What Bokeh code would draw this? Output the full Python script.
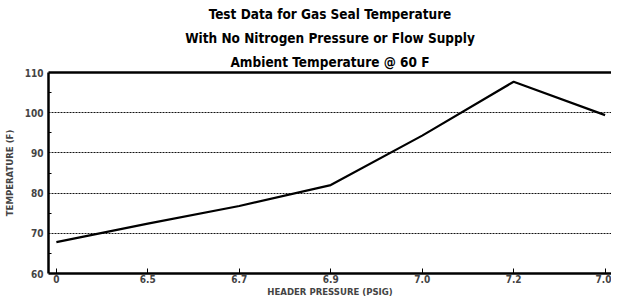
from bokeh.plotting import figure
from bokeh.models import Range1d, Title, FixedTicker, LinearAxis
from bokeh.embed import file_html
from bokeh.resources import INLINE

categories = ["0", "6.5", "6.7", "6.9", "7.0", "7.2", "7.0"]
temperature = [67.8, 72.4, 76.8, 82.0, 94.3, 107.7, 99.4]
y_ticks = [60, 70, 80, 90, 100, 110]
y_minor = [65, 75, 85, 95, 105]
grid_ticks = [70, 80, 90, 100]
title_lines = ["Test Data for Gas Seal Temperature",
               "With No Nitrogen Pressure or Flow Supply",
               "Ambient Temperature @ 60 F"]

FONT = "'DejaVu Sans Condensed', 'Liberation Sans', sans-serif"
idx = list(range(len(categories)))

p = figure(width=611, height=299, output_backend="svg", toolbar_location=None,
           x_range=Range1d(-0.086, 6.07), y_range=Range1d(60, 110),
           x_axis_location=None, y_axis_location=None,
           min_border_right=0, min_border_left=10, min_border_bottom=0, min_border_top=0)
p.title.visible = False
p.outline_line_color = None
p.background_fill_color = "white"
p.border_fill_color = "white"

p.line(idx, temperature, line_color="black", line_width=2.2)

xa = LinearAxis()
xa.ticker = FixedTicker(ticks=idx)
xa.major_label_overrides = {i: c for i, c in zip(idx, categories)}
xa.axis_label = "HEADER PRESSURE (PSIG)"
xa.axis_label_text_font = FONT
xa.axis_label_text_font_style = "bold"
xa.axis_label_text_font_size = "9.5px"
xa.axis_label_standoff = 0
xa.major_label_text_font = FONT
xa.major_label_text_font_style = "bold"
xa.major_label_text_font_size = "10px"
xa.major_tick_in = 5
xa.major_tick_out = 0
xa.minor_tick_line_color = None
xa.axis_line_width = 2.5
xa.major_label_standoff = 1
p.add_layout(xa, "below")

ya = LinearAxis()
ya.ticker = FixedTicker(ticks=y_ticks, minor_ticks=y_minor)
ya.axis_label = "TEMPERATURE (F)"
ya.axis_label_text_font = FONT
ya.axis_label_text_font_style = "bold"
ya.axis_label_text_font_size = "9.5px"
ya.axis_label_standoff = 7
ya.major_label_text_font = FONT
ya.major_label_text_font_style = "bold"
ya.major_label_text_font_size = "10px"
ya.major_tick_in = 0
ya.major_tick_out = 0
ya.minor_tick_in = 3
ya.minor_tick_out = 0
ya.axis_line_width = 2.5
ya.major_label_standoff = 5
p.add_layout(ya, "left")

# top border as a bare axis
top = LinearAxis(ticker=FixedTicker(ticks=[]), major_tick_line_color=None,
                 minor_tick_line_color=None, major_label_standoff=0,
                 axis_line_width=2.5, axis_line_color="black")
p.add_layout(top, "above")

for t in reversed(title_lines):
    p.add_layout(Title(text=t, align="center", text_font=FONT, text_font_size="13.5px",
                       text_font_style="bold", text_color="black", standoff=6, offset=7), "above")

p.xgrid.grid_line_color = None
p.ygrid.ticker = FixedTicker(ticks=grid_ticks)
p.ygrid.grid_line_color = "#111111"
p.ygrid.grid_line_dash = "2 1"
p.ygrid.grid_line_width = 1.2

open("out.html", "w").write(file_html(p, INLINE))
